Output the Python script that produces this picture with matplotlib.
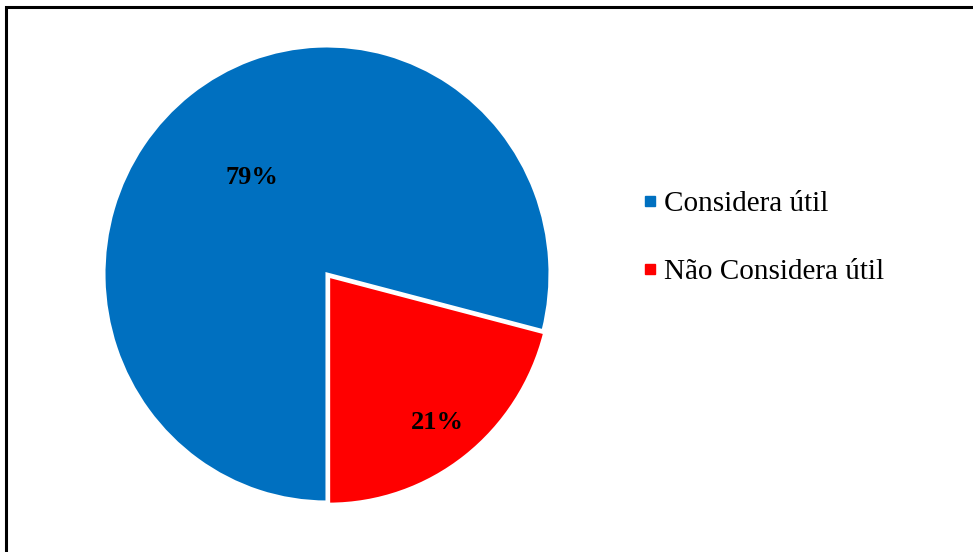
import numpy as np
import matplotlib
matplotlib.use("Agg")
import matplotlib.pyplot as plt
from matplotlib.patches import Rectangle
from matplotlib.lines import Line2D

# survey answers (percent)
categorias = ["Considera útil", "Não Considera útil"]
valores = [79, 21]
cores = ["#0070C0", "#FF0000"]

W, H = 973, 552
fig = plt.figure(figsize=(W / 100, H / 100), dpi=100)

# pie placed by pixel centre / radii (slightly taller than wide)
cx, cy, rx, ry = 327, 274, 223, 228
ax = fig.add_axes([(cx - rx) / W, (H - cy - ry) / H, 2 * rx / W, 2 * ry / H])
wedges, _ = ax.pie(valores, colors=cores, startangle=-90, counterclock=False,
                   explode=[0, 0.012],
                   wedgeprops=dict(edgecolor="white", linewidth=2.2))
ax.set_xlim(-1, 1)
ax.set_ylim(-1, 1)
ax.set_aspect("auto")
ax.axis("off")

# percentage labels, bold serif, inside each wedge
dist = [0.55, 0.81]
for w, v, d in zip(wedges, valores, dist):
    ang = np.deg2rad((w.theta1 + w.theta2) / 2)
    ax.text(d * np.cos(ang), d * np.sin(ang) - 0.01, f"{v}%", ha="center", va="center",
            fontsize=19, fontweight="bold", family="Liberation Serif", color="black")

handles = [Line2D([], [], marker="s", ls="none", color=c, markersize=6.5) for c in cores]
fig.legend(handles, categorias, loc="center left",
           bbox_to_anchor=(644 / W, 1 - 238 / H), frameon=False,
           prop=dict(family="Liberation Serif", size=21),
           handlelength=0.4, handletextpad=0.3,
           labelspacing=1.42, borderpad=0, borderaxespad=0)

# outer frame (only top and left edges fall inside the canvas)
fig.add_artist(Rectangle((6 / W, -0.1), 2.0, 1.1 - 6.5 / H, transform=fig.transFigure,
                         fill=False, edgecolor="black", linewidth=2.2))

fig.savefig("out.png", dpi=100)
